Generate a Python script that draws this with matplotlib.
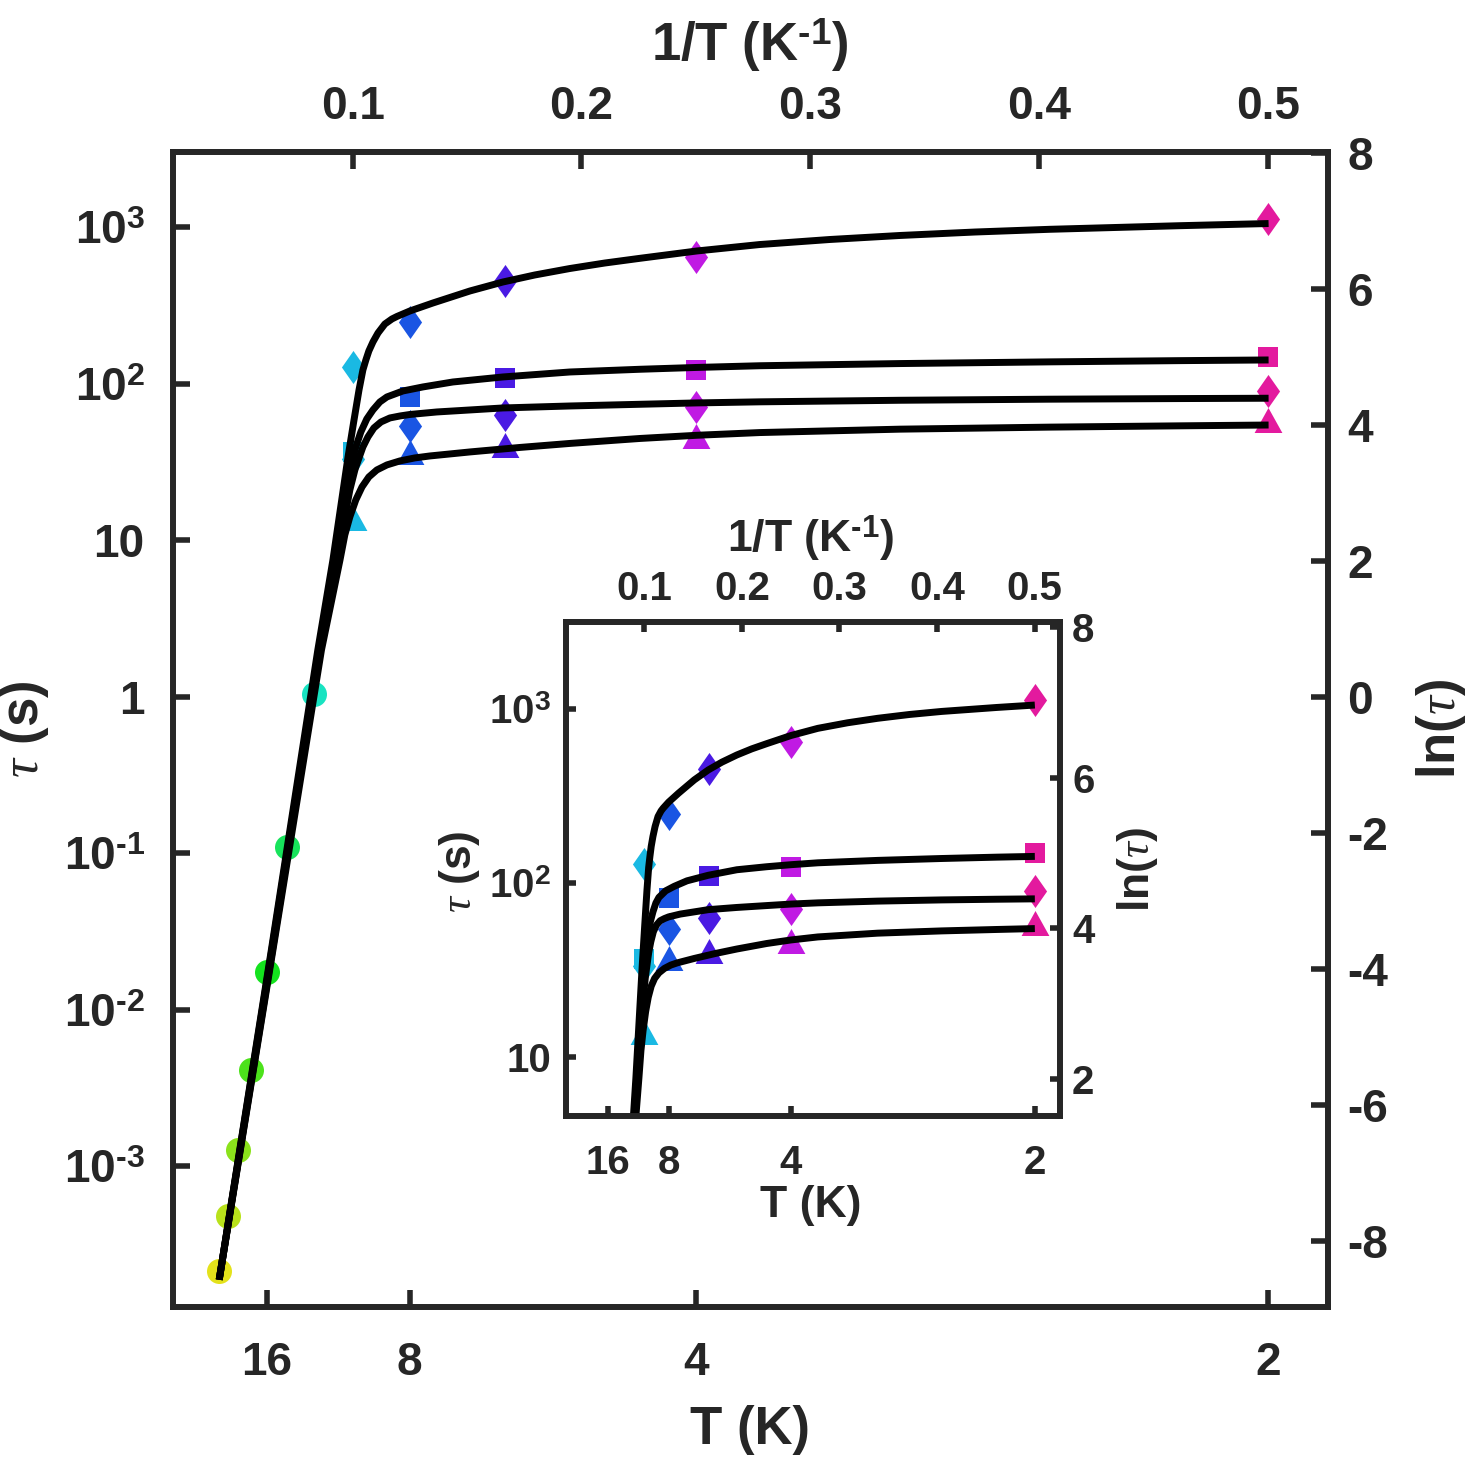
import numpy as np
import matplotlib
matplotlib.use('Agg')
import matplotlib.pyplot as plt
from matplotlib.ticker import NullLocator

plt.rcParams['font.family'] = ['Liberation Sans', 'DejaVu Sans']
plt.rcParams['font.weight'] = 'bold'
plt.rcParams['mathtext.fontset'] = 'custom'
plt.rcParams['mathtext.rm'] = 'Liberation Sans:bold'
plt.rcParams['mathtext.bf'] = 'Liberation Sans:bold'
plt.rcParams['mathtext.it'] = 'Liberation Serif:style=italic:weight=regular'
plt.rcParams['axes.unicode_minus'] = False

# ---------------- data ----------------
T_circ = [24, 22, 20, 18, 16, 14, 12]
tau_circ = [2.15e-4, 4.85e-4, 1.28e-3, 4.14e-3, 1.75e-2, 0.110, 1.045]
col_circ = ['#e4e21b', '#b9e21b', '#8be21b', '#4ce21b', '#14e21e', '#17e35b', '#18e3c1']

T_sym = [10, 8, 6, 4, 2]
tau_diamond_A = [128, 248, 454, 646, 1130]
tau_square_B = [36.5, 82, 109, 123, 148]
tau_diamond_C = [33, 54, 63, 71, 90]
tau_triangle_D = [13.9, 36.7, 40.7, 46.4, 58.4]
col_sym = ['#1ab9e3', '#1a55e3', '#4a1ae3', '#c01ae3', '#e31a9e']

# fitted curves: 1/T (K^-1) and ln(tau)
invT_A = [0.0417, 0.0645, 0.0848, 0.0914, 0.0980, 0.1004, 0.1028, 0.1045, 0.1058,
          0.1071, 0.1089, 0.1111, 0.1141, 0.1172, 0.1194, 0.1250, 0.1351, 0.1513,
          0.1657, 0.1796, 0.1949, 0.2102, 0.2255, 0.2504, 0.2779, 0.3085, 0.3391,
          0.3719, 0.4046, 0.4614, 0.5003]
lntau_A = [-8.574, -3.721, 0.691, 2.015, 3.529, 4.029, 4.515, 4.809, 4.956,
           5.088, 5.221, 5.353, 5.485, 5.559, 5.596, 5.676, 5.794, 5.971,
           6.103, 6.206, 6.301, 6.382, 6.451, 6.559, 6.654, 6.728, 6.787,
           6.838, 6.878, 6.931, 6.963]

invT_B = [0.0417, 0.0647, 0.0853, 0.0923, 0.0971, 0.0997, 0.1014, 0.1036, 0.1062,
          0.1089, 0.1119, 0.1150, 0.1185, 0.1220, 0.1307, 0.1438, 0.1657, 0.1949,
          0.2255, 0.2504, 0.2779, 0.3391, 0.4046, 0.4614, 0.5003]
lntau_B = [-8.574, -3.721, 0.691, 2.015, 3.044, 3.456, 3.676, 3.897, 4.088,
           4.221, 4.338, 4.412, 4.456, 4.500, 4.559, 4.632, 4.706, 4.779,
           4.819, 4.846, 4.871, 4.903, 4.928, 4.946, 4.956]

invT_C = [0.0417, 0.0650, 0.0857, 0.0931, 0.0988, 0.1010, 0.1028, 0.1045, 0.1067,
          0.1093, 0.1124, 0.1163, 0.1207, 0.1250, 0.1368, 0.1657, 0.1949, 0.2255,
          0.2504, 0.2779, 0.3391, 0.4046, 0.4614, 0.5003]
lntau_C = [-8.574, -3.721, 0.691, 2.015, 3.044, 3.338, 3.515, 3.676, 3.824,
           3.956, 4.044, 4.103, 4.132, 4.154, 4.191, 4.250, 4.279, 4.304,
           4.324, 4.340, 4.363, 4.379, 4.388, 4.393]

invT_D = [0.0417, 0.0652, 0.0864, 0.0945, 0.0966, 0.0988, 0.1014, 0.1041, 0.1071,
          0.1106, 0.1150, 0.1207, 0.1272, 0.1338, 0.1513, 0.1731, 0.1949, 0.2255,
          0.2504, 0.2779, 0.3391, 0.4046, 0.4614, 0.5003]
lntau_D = [-8.574, -3.721, 0.691, 2.015, 2.382, 2.647, 2.897, 3.088, 3.235,
           3.338, 3.412, 3.471, 3.515, 3.544, 3.603, 3.669, 3.728, 3.801,
           3.848, 3.888, 3.938, 3.968, 3.987, 3.999]

T_tick_labels = ['16', '8', '4', '2']
T_tick_vals = [16, 8, 4, 2]
invT_top_ticks = [0.1, 0.2, 0.3, 0.4, 0.5]
tau_ticks = [1e-3, 1e-2, 1e-1, 1, 10, 1e2, 1e3]
tau_tick_labels = [r'$10^{\text{-3}}$', r'$10^{\text{-2}}$', r'$10^{\text{-1}}$',
                   '1', '10', r'$10^{\text{2}}$', r'$10^{\text{3}}$']
ln_ticks_main = [-8, -6, -4, -2, 0, 2, 4, 6, 8]
ln_ticks_inset = [2, 4, 6, 8]

# ---------------- style ----------------
DARK = '#262626'
diamond = [(0, 1), (0.7, 0), (0, -1), (-0.7, 0), (0, 1)]
triangle = [(0, 0.9), (1, -0.9), (-1, -0.9), (0, 0.9)]


def draw_data(ax):
    for T, tau, c in zip(T_circ, tau_circ, col_circ):
        ax.plot(1.0 / T, tau, 'o', ms=18, mfc=c, mec=c, mew=0, zorder=2)
    for i, T in enumerate(T_sym):
        c = col_sym[i]
        ax.plot(1.0 / T, tau_diamond_A[i], marker=diamond, ms=23.8, mfc=c, mec=c, mew=0, ls='none', zorder=2)
        ax.plot(1.0 / T, tau_square_B[i], marker='s', ms=14.4, mfc=c, mec=c, mew=0, ls='none', zorder=2)
        ax.plot(1.0 / T, tau_diamond_C[i], marker=diamond, ms=23.8, mfc=c, mec=c, mew=0, ls='none', zorder=2)
        ax.plot(1.0 / T, tau_triangle_D[i], marker=triangle, ms=20, mfc=c, mec=c, mew=0, ls='none', zorder=2)
    for xv, lv in [(invT_A, lntau_A), (invT_B, lntau_B), (invT_C, lntau_C), (invT_D, lntau_D)]:
        ax.plot(xv, np.exp(lv), '-', color='k', lw=5, zorder=3,
                solid_capstyle='butt', solid_joinstyle='round')


def style_axes(ax, ax_t, ax_r, xlim, lnlim, ln_ticks, ytick_vals, ytick_labels,
               fs_tick, fs_lab, tlen, pads, labcoords):
    ax.set_yscale('log')
    ax.set_xlim(*xlim)
    ax.set_ylim(np.exp(lnlim[0]), np.exp(lnlim[1]))
    ax.set_xticks([1.0 / t for t in T_tick_vals])
    ax.set_xticklabels(T_tick_labels)
    ax.set_yticks(ytick_vals)
    ax.set_yticklabels(ytick_labels)
    ax.yaxis.set_minor_locator(NullLocator())
    ax.xaxis.set_minor_locator(NullLocator())
    ax_t.set_xlim(*xlim)
    ax_t.set_xticks(invT_top_ticks)
    ax_t.set_xticklabels(['%.1f' % v for v in invT_top_ticks])
    ax_r.set_ylim(*lnlim)
    ax_r.set_yticks(ln_ticks)
    ax_r.set_yticklabels(['%d' % v for v in ln_ticks])
    pb, pt, pl, pr = pads
    ax.tick_params(axis='x', which='both', direction='in', length=tlen, width=4,
                   color=DARK, labelcolor=DARK, labelsize=fs_tick, pad=pb, top=False)
    ax.tick_params(axis='y', which='both', direction='in', length=tlen, width=4,
                   color=DARK, labelcolor=DARK, labelsize=fs_tick, pad=pl, right=False)
    ax_t.tick_params(axis='x', direction='in', length=tlen, width=4, color=DARK,
                     labelcolor=DARK, labelsize=fs_tick, pad=pt)
    ax_r.tick_params(axis='y', direction='in', length=tlen, width=4, color=DARK,
                     labelcolor=DARK, labelsize=fs_tick, pad=pr)
    for a in (ax, ax_t, ax_r):
        for s in a.spines.values():
            s.set_linewidth(4)
            s.set_color(DARK)
    ax.set_xlabel('T (K)', fontsize=fs_lab, color=DARK, fontweight='bold')
    ax_t.set_xlabel(r'1/T (K$^{\text{-1}}$)', fontsize=fs_lab, color=DARK, fontweight='bold')
    ax.set_ylabel(r'$\tau$ (s)', fontsize=fs_lab, color=DARK, fontweight='bold')
    ax_r.set_ylabel(r'ln($\tau$)', fontsize=fs_lab, color=DARK, fontweight='bold')
    (bx, by), (tx, ty), (lx, ly), (rx, ry) = labcoords
    ax.xaxis.set_label_coords(bx, by)
    ax_t.xaxis.set_label_coords(tx, ty)
    ax.yaxis.set_label_coords(lx, ly)
    ax_r.yaxis.set_label_coords(rx, ry)


fig = plt.figure(figsize=(14.67, 14.57), dpi=100)

# main panel
ax = fig.add_axes([0.1176, 0.1032, 0.7877, 0.7927])
draw_data(ax)
ax_t = ax.twiny()
ax_r = ax.twinx()
style_axes(ax, ax_t, ax_r, (0.0213, 0.5263), (-8.97, 8.02), ln_ticks_main,
           tau_ticks, tau_tick_labels, 33, 38, 12, (25, 16, 20, 14),
           ((0.5, -0.085), (0.5, 1.079), (-0.105, 0.5), (1.074, 0.5)))

# inset panel
axi = fig.add_axes([0.3855, 0.2337, 0.3368, 0.3397])
draw_data(axi)
axi_t = axi.twiny()
axi_r = axi.twinx()
style_axes(axi, axi_t, axi_r, (0.0193, 0.5257), (1.507, 8.07), ln_ticks_inset,
           [10, 1e2, 1e3], ['10', r'$10^{\text{2}}$', r'$10^{\text{3}}$'],
           29, 32, 7, (20, 10, 10.5, 9),
           ((0.497, -0.138), (0.497, 1.141), (-0.169, 0.494), (1.112, 0.498)))

fig.savefig('out.png', dpi=100)
